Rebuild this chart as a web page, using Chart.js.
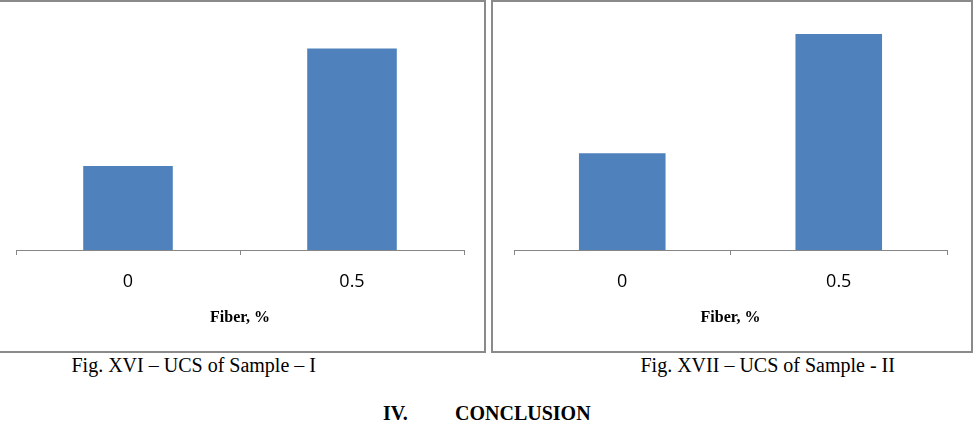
<!DOCTYPE html>
<html lang="en">
<head>
<meta charset="UTF-8">
<title>UCS of Samples</title>
<script src="https://cdn.jsdelivr.net/npm/chart.js@4.4.1/dist/chart.umd.min.js"></script>
<style>
  body { margin: 0; width: 974px; height: 422px; background: #fff; position: relative; overflow: hidden; }
  .box { position: absolute; border: 2px solid #8a8a8a; box-sizing: border-box; pointer-events: none; }
  .wrap { position: absolute; }
  .cap { position: absolute; font-family: "Liberation Serif", "Times New Roman", serif; font-size: 20px; line-height: 20px; color: #000; white-space: nowrap; }
</style>
</head>
<body>

<div class="wrap" style="left:0; top:0; width:486px; height:352px;"><canvas id="chart1"></canvas></div>
<div class="wrap" style="left:491px; top:0; width:482px; height:352px;"><canvas id="chart2"></canvas></div>

<div class="box" style="left:-2px; top:0; width:488px; height:353px;"></div>
<div class="box" style="left:491px; top:0; width:482px; height:353px;"></div>

<div class="cap" id="cap1" style="top:355px;">Fig. XVI – UCS of Sample – I</div>
<div class="cap" id="cap2" style="top:355px;">Fig. XVII – UCS of Sample - II</div>
<div class="cap" style="top:403px; left:383px; font-weight:bold;">IV.</div>
<div class="cap" style="top:403px; left:455px; font-weight:bold;">CONCLUSION</div>

<script>
// fiber content categories (x axis)
const categories = ['0', '0.5'];
// bar heights (no y axis shown, scale 0..3)
const sample1Values = [1.05, 2.52];
const sample2Values = [1.21, 2.70];
const yMax = 3;

function centerCaption(id, cx) {
  const el = document.getElementById(id);
  el.style.left = (cx - el.offsetWidth / 2) + 'px';
}
centerCaption('cap1', 193.5);
centerCaption('cap2', 767.5);

function makeChart(canvasId, values, padLeft, padRight) {
  return new Chart(document.getElementById(canvasId), {
    type: 'bar',
    data: {
      labels: categories,
      datasets: [{
        data: values,
        backgroundColor: '#4f81bd',
        borderWidth: 0,
        barPercentage: 0.8,
        categoryPercentage: 0.5
      }]
    },
    options: {
      responsive: true,
      maintainAspectRatio: false,
      animation: false,
      layout: { padding: { top: 10, left: padLeft, right: padRight, bottom: 20.2 } },
      plugins: { legend: { display: false }, tooltip: { enabled: false } },
      scales: {
        x: {
          grid: { offset: true, drawOnChartArea: false, tickLength: 5, color: '#868686', lineWidth: 1 },
          border: { color: '#868686', width: 1 },
          ticks: { color: '#000', padding: 16, font: { family: 'Open Sans', size: 18 } },
          title: {
            display: true,
            text: 'Fiber, %',
            color: '#000',
            padding: { top: 0, bottom: 4 },
            font: { family: 'Liberation Serif', size: 16, weight: 'bold' }
          }
        },
        y: { display: false, min: 0, max: yMax }
      }
    }
  });
}

makeChart('chart1', sample1Values, 16, 22);
makeChart('chart2', sample2Values, 23, 26);
</script>
</body>
</html>
